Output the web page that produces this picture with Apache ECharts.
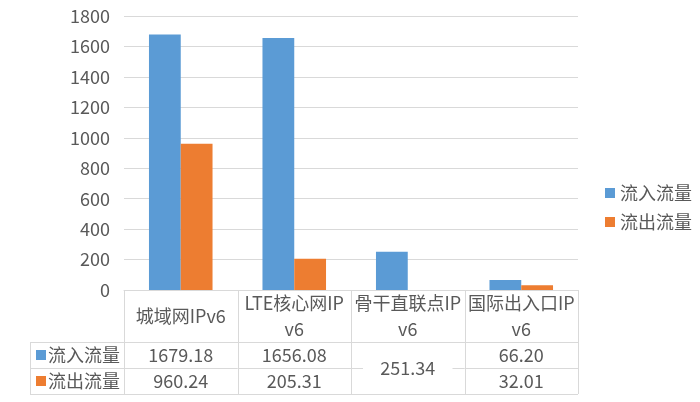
<!DOCTYPE html>
<html><head><meta charset="utf-8">
<script src="https://cdn.jsdelivr.net/npm/echarts@6/dist/echarts.min.js"></script>
<style>html,body{margin:0;padding:0;background:#fff}#c{width:700px;height:402px}</style>
</head><body><div id="c"></div>
<script>
const categories = ['城域网IPv6', 'LTE核心网IPv6', '骨干直联点IPv6', '国际出入口IPv6'];
const seriesNames = ['流入流量', '流出流量'];
const inflow = [1679.18, 1656.08, 251.34, 66.20];
const outflow = [960.24, 205.31, null, 32.01];
const yMin = 0, yMax = 1800, yInterval = 200;
const colors = ['#5B9BD5', '#ED7D31'];

const FONT = '"Noto Sans CJK SC", sans-serif';
const FS = 18;
const TXT = '#595959';
const LINE = '#D9D9D9';
const G = {left: 124, right: 122, top: 16, bottom: 112};
const ROW_H = 26, HEAD_H = 52, LEFT_COL_X = 30;

const chart = echarts.init(document.getElementById('c'), null, {renderer: 'canvas'});
chart.setOption({
  animation: false,
  color: colors,
  grid: {left: G.left, right: G.right, top: G.top, bottom: G.bottom},
  legend: {
    orient: 'vertical', left: 600, top: 179, itemGap: 11,
    icon: 'rect', itemWidth: 10, itemHeight: 10,
    textStyle: {fontFamily: FONT, fontSize: FS, color: TXT},
    data: seriesNames
  },
  xAxis: {
    type: 'category', data: categories,
    axisLine: {show: true, lineStyle: {color: LINE, width: 1}},
    axisTick: {show: false},
    axisLabel: {
      interval: 0, margin: HEAD_H / 2, verticalAlign: 'middle',
      fontFamily: FONT, fontSize: FS, color: TXT, lineHeight: 26,
      width: 110, overflow: 'breakAll'
    }
  },
  yAxis: {
    type: 'value', min: yMin, max: yMax, interval: yInterval,
    axisLine: {show: false}, axisTick: {show: false},
    splitLine: {lineStyle: {color: LINE, width: 1}},
    axisLabel: {margin: 14, fontFamily: FONT, fontSize: FS, color: TXT,
      formatter: function (v) { return String(v); }}
  },
  series: [
    {name: seriesNames[0], type: 'bar', data: inflow, barGap: '0%', barCategoryGap: '44%'},
    {name: seriesNames[1], type: 'bar', data: outflow, barGap: '0%', barCategoryGap: '44%'}
  ]
});

// Build the data table beneath the axis from the arrays, positioned from the grid
const x0 = chart.convertToPixel({xAxisIndex: 0}, 0);
const x1 = chart.convertToPixel({xAxisIndex: 0}, 1);
const band = x1 - x0;
const left = x0 - band / 2;
const right = left + band * categories.length;
const yAxis0 = chart.convertToPixel({yAxisIndex: 0}, 0);
const rowTop = yAxis0 + HEAD_H;
const rowMid = rowTop + ROW_H;
const rowBot = rowMid + ROW_H;

const els = [];
function line(xa, ya, xb, yb) {
  els.push({type: 'line', silent: true, shape: {x1: xa, y1: ya, x2: xb, y2: yb},
    style: {stroke: LINE, lineWidth: 1}});
}
function text(str, x, y, align) {
  els.push({type: 'text', silent: true, x: x, y: y,
    style: {text: str, fontFamily: FONT, fontSize: FS, fill: TXT,
      align: align || 'center', verticalAlign: 'middle'}});
}
// verticals
for (let k = 0; k <= categories.length; k++) {
  const x = Math.round(left + k * band) + 0.5;
  line(x, yAxis0, x, rowBot);
}
line(LEFT_COL_X + 0.5, rowTop, LEFT_COL_X + 0.5, rowBot);
// horizontals
line(LEFT_COL_X, rowTop + 0.5, right, rowTop + 0.5);
line(LEFT_COL_X, rowBot + 0.5, right, rowBot + 0.5);
line(LEFT_COL_X, rowMid + 0.5, left, rowMid + 0.5);
// row labels with colour keys
const rows = [inflow, outflow];
for (let r = 0; r < 2; r++) {
  const cy = rowTop + ROW_H * r + ROW_H / 2;
  els.push({type: 'rect', silent: true, shape: {x: LEFT_COL_X + 6, y: cy - 5, width: 10, height: 10},
    style: {fill: colors[r]}});
  text(seriesNames[r], LEFT_COL_X + 18, cy, 'left');
}
// cells
for (let i = 0; i < categories.length; i++) {
  const cx = left + band * i + band / 2;
  const cl = left + band * i, cr = cl + band;
  if (outflow[i] == null) {
    text(inflow[i].toFixed(2), cx, rowMid);
    line(cl, rowMid + 0.5, cl + 12, rowMid + 0.5);
    line(cr - 12, rowMid + 0.5, cr, rowMid + 0.5);
  } else {
    text(inflow[i].toFixed(2), cx, rowTop + ROW_H / 2);
    text(outflow[i].toFixed(2), cx, rowMid + ROW_H / 2);
    line(cl, rowMid + 0.5, cr, rowMid + 0.5);
  }
}
chart.setOption({graphic: {elements: els}});
</script>
</body></html>
